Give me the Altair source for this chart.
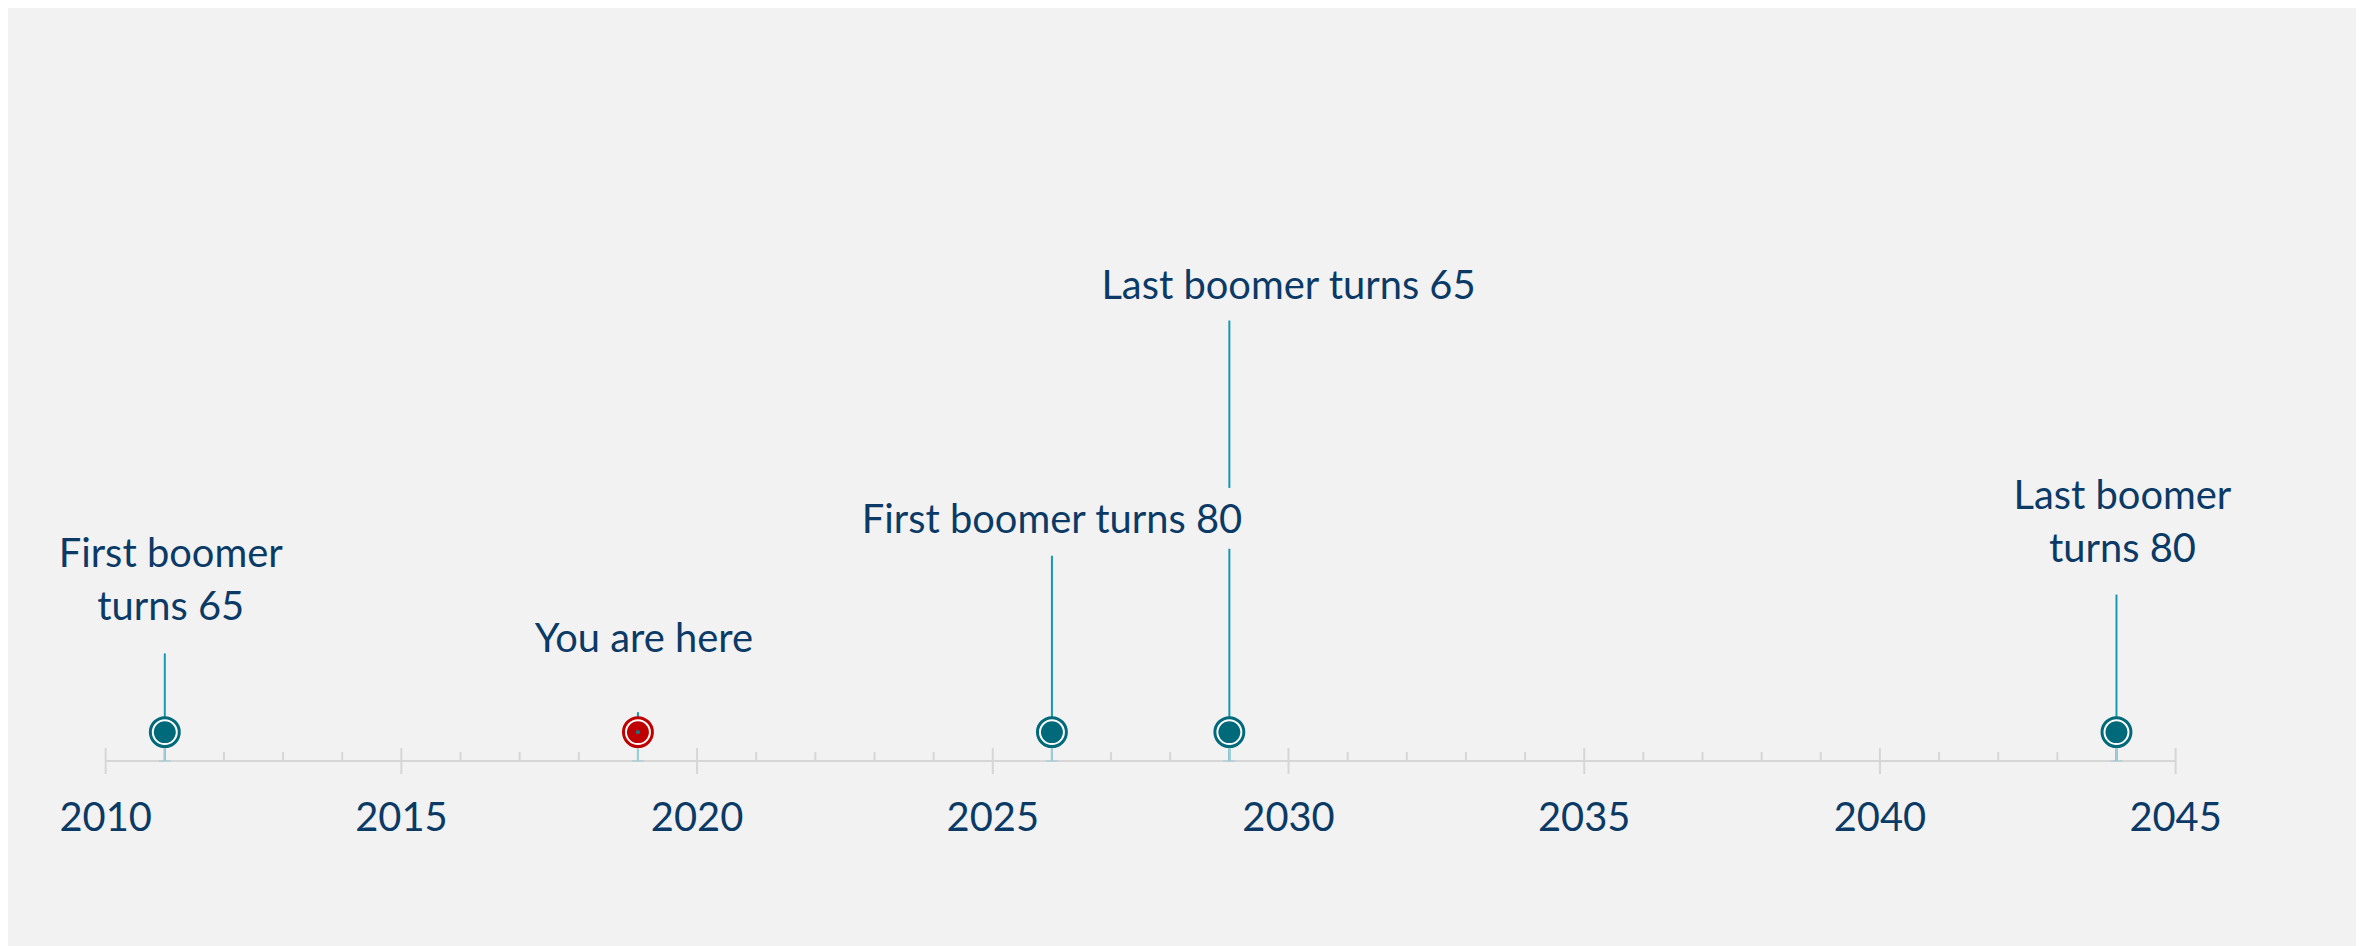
import altair as alt
import pandas as pd

# ---- data ----
event_years = [2011, 2019, 2026, 2029, 2044]
event_kind = ["milestone", "now", "milestone", "milestone", "milestone"]
marker_level = 29  # height of markers above the time axis

# stems (leader lines): year, from, to  (2029 is interrupted by the 2026 label)
stem_year = [2011, 2019, 2026, 2029, 2029, 2044]
stem_from = [0, 0, 0, 0, 274, 0]
stem_to = [108, 49, 206, 213, 442, 167]

label_text = ["First boomer", "turns 65", "You are here", "First boomer turns 80",
              "Last boomer turns 65", "Last boomer", "turns 80"]
label_x = [2011.1, 2011.1, 2019.1, 2026.0, 2030.0, 2044.1, 2044.1]
label_y = [195, 142, 109, 229, 464, 253, 200]

axis_years = list(range(2010, 2046))
major_years = [2010, 2015, 2020, 2025, 2030, 2035, 2040, 2045]

# ---- styling ----
BG = "#f2f2f2"
TEXT = "#0b3a66"
TEAL = "#00697a"
STEM = "#1599b3"
LIGHT = "#a3cdd6"
RED = "#c00000"
AXIS = "#d6d6d6"
FONT = "Lato"
FS = 40

xs = alt.Scale(domain=[2010, 2045], nice=False, zero=False)
ys = alt.Scale(domain=[-184, 754], nice=False, zero=False)

events = pd.DataFrame({"year": event_years, "kind": event_kind, "lvl": marker_level})
stems = pd.DataFrame({"year": stem_year, "y0": stem_from, "y1": stem_to})
labels = pd.DataFrame({"x": label_x, "y": label_y, "text": label_text})
ticks = pd.DataFrame({"year": axis_years})
ticks["major"] = ticks["year"].isin(major_years)
ticks["lo"] = ticks["major"].map({True: -13, False: 0})
ticks["hi"] = ticks["major"].map({True: 13, False: 9})
axis_df = pd.DataFrame({"a": [axis_years[0]], "b": [axis_years[-1]], "y": [0]})
tick_lab = pd.DataFrame({"year": major_years, "y": -70})

X = lambda f: alt.X(f, scale=xs, axis=None, title=None)
Y = lambda f: alt.Y(f, scale=ys, axis=None, title=None)

axis_line = alt.Chart(axis_df).mark_rule(color=AXIS, strokeWidth=2).encode(
    x=X("a:Q"), x2="b:Q", y=Y("y:Q"))
tick_marks = alt.Chart(ticks).mark_rule(color=AXIS, strokeWidth=2).encode(
    x=X("year:Q"), y=Y("lo:Q"), y2="hi:Q")
tick_text = alt.Chart(tick_lab).mark_text(
    font=FONT, fontSize=FS, color=TEXT, baseline="alphabetic", align="center").encode(
    x=X("year:Q"), y=Y("y:Q"), text=alt.Text("year:Q", format="d"))

stem_lines = alt.Chart(stems).mark_rule(color=STEM, strokeWidth=2).encode(
    x=X("year:Q"), y=Y("y0:Q"), y2="y1:Q")
stem_low = alt.Chart(events).mark_rule(color=LIGHT, strokeWidth=2).encode(
    x=X("year:Q"), y=Y("lvl:Q"), y2=alt.datum(0))
caps = alt.Chart(events).mark_point(shape="M-1,0L1,0", size=144, stroke=LIGHT,
                                    strokeWidth=1.5, filled=False).encode(
    x=X("year:Q"), y=alt.Y("z:Q", scale=ys, axis=None)).transform_calculate(z="0")

color_scale = alt.Scale(domain=["milestone", "now"], range=[TEAL, RED])
rings = alt.Chart(events).mark_point(shape="circle", size=841, fill="white",
                                     filled=False, strokeWidth=3, opacity=1,
                                     fillOpacity=1).encode(
    x=X("year:Q"), y=Y("lvl:Q"),
    stroke=alt.Stroke("kind:N", scale=color_scale, legend=None))
discs = alt.Chart(events).mark_circle(size=484, opacity=1).encode(
    x=X("year:Q"), y=Y("lvl:Q"),
    color=alt.Color("kind:N", scale=color_scale, legend=None))
dot = alt.Chart(events).transform_filter(alt.datum.kind == "now").mark_circle(
    size=18, color="#1b7384", opacity=1).encode(x=X("year:Q"), y=Y("lvl:Q"))

texts = alt.Chart(labels).mark_text(font=FONT, fontSize=FS, color=TEXT,
                                    baseline="alphabetic", align="center").encode(
    x=X("x:Q"), y=Y("y:Q"), text="text:N")

chart = alt.layer(axis_line, tick_marks, tick_text, stem_lines, stem_low, caps,
                  rings, discs, dot, texts).properties(
    width=2077, height=938,
    padding={"left": 98, "right": 181, "top": 0, "bottom": 0},
    autosize=alt.AutoSizeParams(type="none"),
    background=BG,
).configure_view(stroke=None)

chart.save("out.html", embed_options={"renderer": "svg", "actions": False})
